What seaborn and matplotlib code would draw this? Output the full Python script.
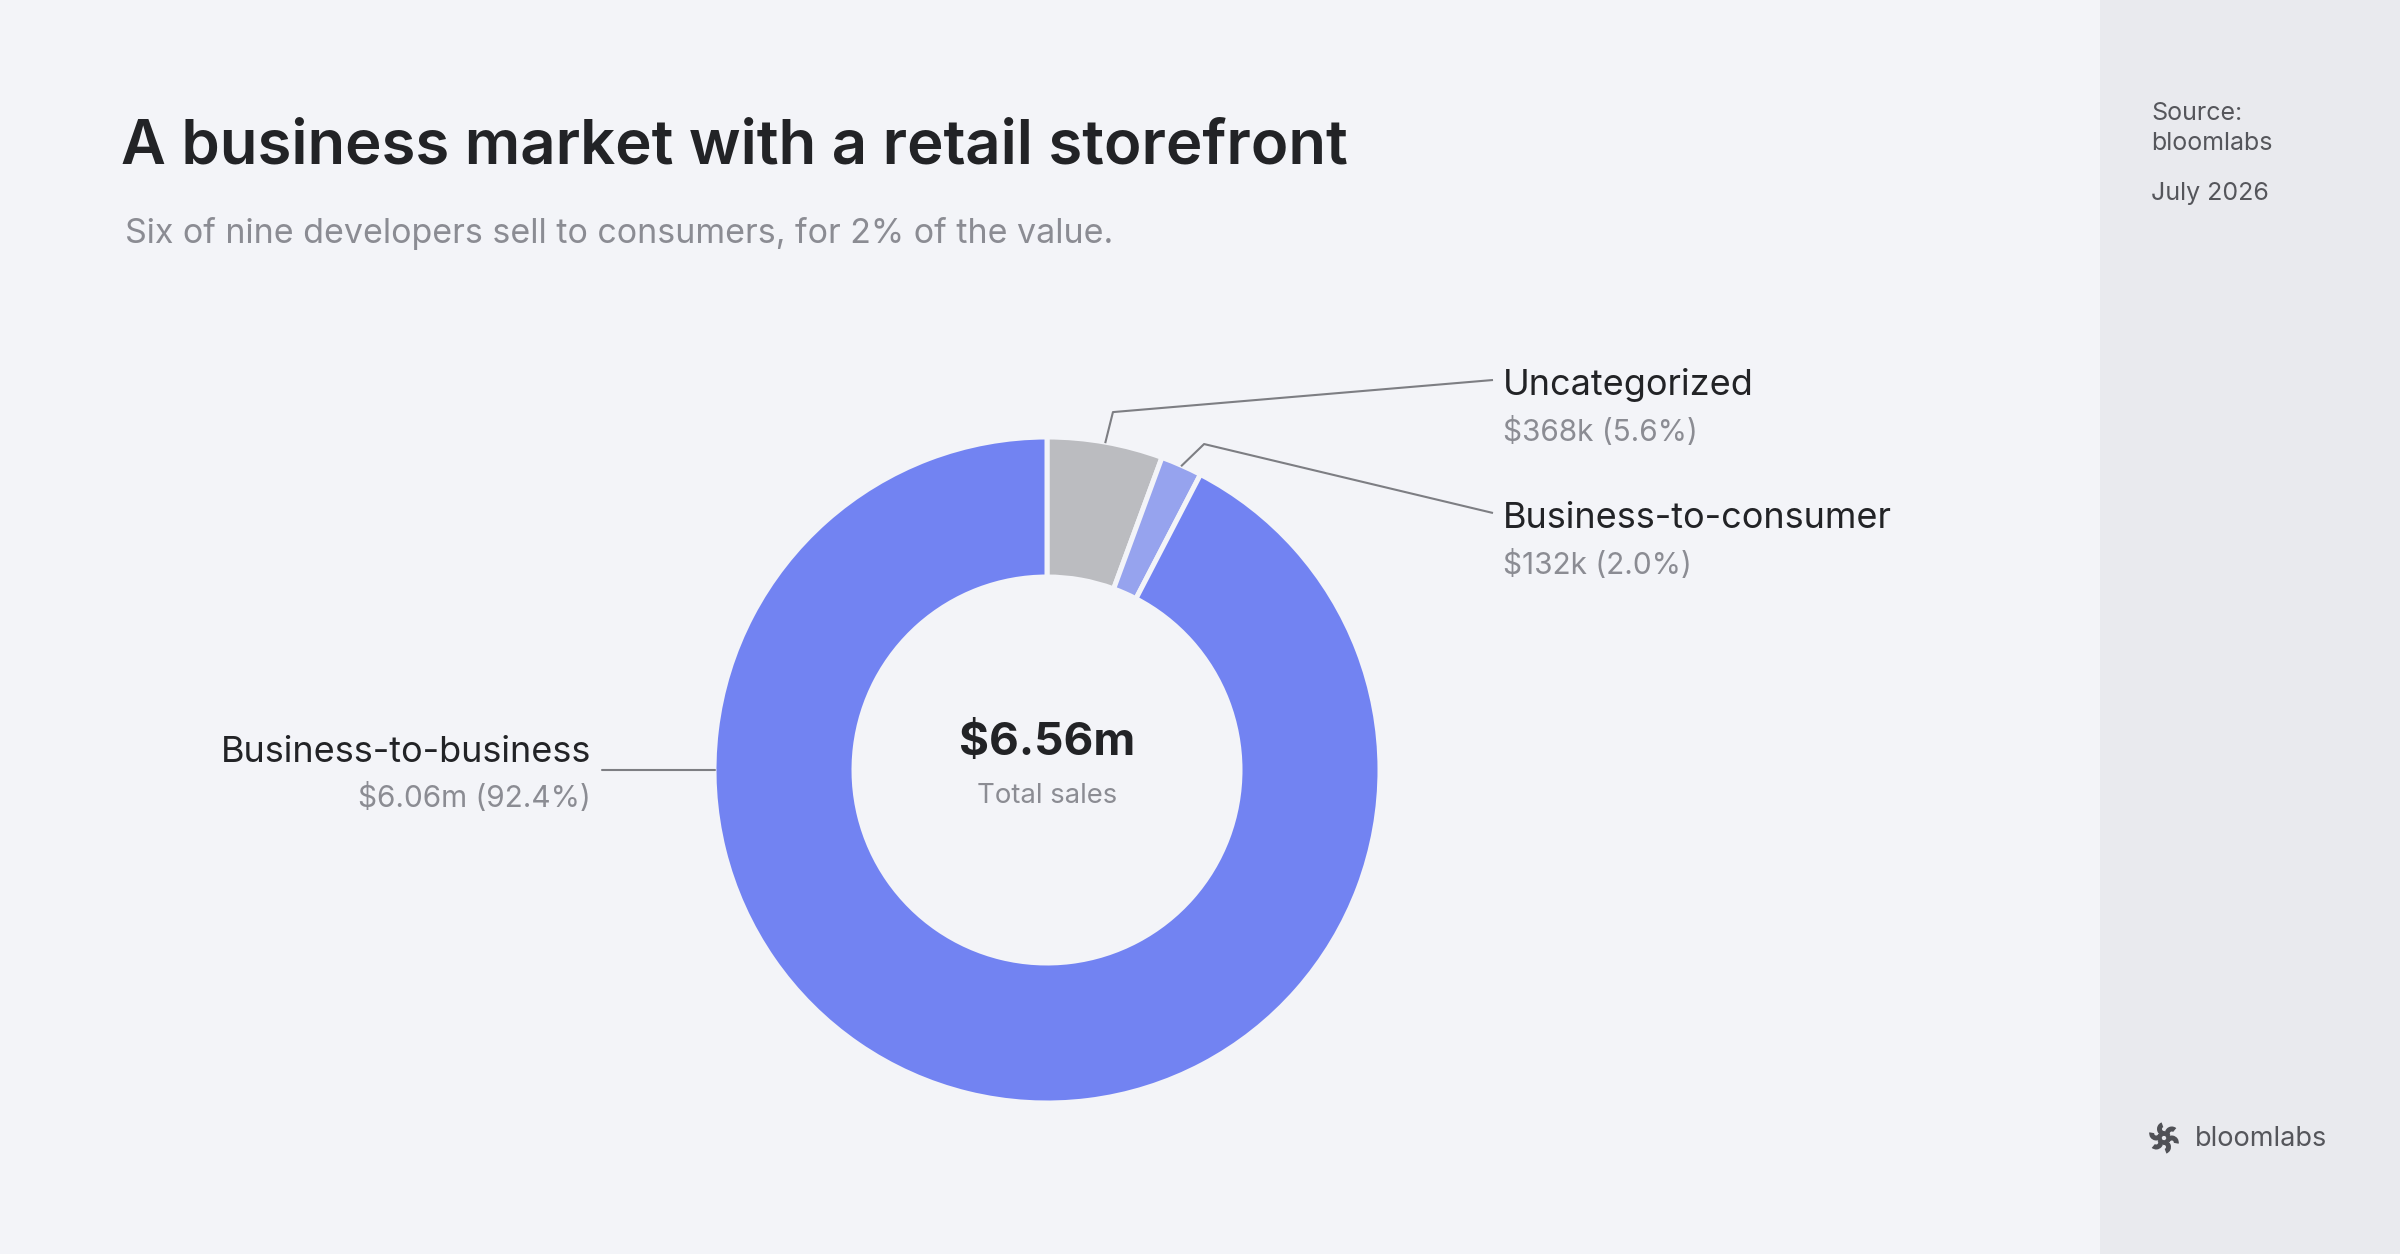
import numpy as np
import matplotlib
matplotlib.use("Agg")
import matplotlib.pyplot as plt
from matplotlib.patches import Rectangle, Wedge
import seaborn as sns

# ---------------- data ----------------
categories = ["Uncategorized", "Business-to-consumer", "Business-to-business"]
sales_k = [368, 132, 6060]
value_labels = ["$368k (5.6%)", "$132k (2.0%)", "$6.06m (92.4%)"]
total_label = "$6.56m"
total_caption = "Total sales"
title = "A business market with a retail storefront"
subtitle = "Six of nine developers sell to consumers, for 2% of the value."
source_lines = ["Source:", "bloomlabs"]
date_label = "July 2026"
brand = "bloomlabs"

# ---------------- style ----------------
BG = "#f3f4f8"
PANEL = "#e9eaee"
DARK = "#222326"
GREY = "#8b8c93"
SIDE = "#55565b"
LINE = "#7d7e83"
slice_colors = sns.color_palette(["#bbbcc0", "#96a3ee", "#7283f2"])

sns.set_theme(style="white")
plt.rcParams["font.family"] = ["Inter", "DejaVu Sans"]

W, H = 2400, 1254
fig = plt.figure(figsize=(16, 8.36), dpi=150, facecolor=BG)
ax = fig.add_axes([0, 0, 1, 1])
ax.set_facecolor(BG)


def Y(py):
    return H - py


# right side panel
ax.add_patch(Rectangle((2100, 0), 300, H, facecolor=PANEL, edgecolor="none", zorder=0))

# donut
cx, cy, R = 1047, 770, 333
wedges, _ = ax.pie(
    sales_k,
    colors=slice_colors,
    startangle=90,
    counterclock=False,
    radius=R,
    center=(cx, Y(cy)),
    wedgeprops=dict(width=140, edgecolor=BG, linewidth=2.4),
)
ax.set_xlim(0, W)
ax.set_ylim(0, H)
ax.set_aspect("equal")
ax.axis("off")

# centre text
ax.text(cx, Y(755), total_label, ha="center", va="baseline", fontsize=22,
        fontweight="bold", color=DARK)
ax.text(cx, Y(803), total_caption, ha="center", va="baseline", fontsize=13.2,
        color=GREY)

NAME_FS = 17.3
VAL_FS = 14.3

# leader lines + labels for the small slices (right side)
label_x = 1503
name_base = [395, 528]
line_end_y = [380, 513]
elbow_dir = [76, 44]   # direction of the first leader segment (degrees)
elbow_len = 32
for i in range(2):
    w = wedges[i]
    mid = np.deg2rad((w.theta1 + w.theta2) / 2)
    x0, y0 = cx + (R - 1) * np.cos(mid), Y(cy) + (R - 1) * np.sin(mid)
    d = np.deg2rad(elbow_dir[i])
    x1, y1 = x0 + elbow_len * np.cos(d), y0 + elbow_len * np.sin(d)
    ax.plot([x0, x1, label_x - 10], [y0, y1, Y(line_end_y[i])], color=LINE,
            lw=1.0, solid_capstyle="butt", zorder=3)
    ax.text(label_x, Y(name_base[i]), categories[i], ha="left", va="baseline",
            fontsize=NAME_FS, color=DARK)
    ax.text(label_x, Y(name_base[i] + 46), value_labels[i], ha="left",
            va="baseline", fontsize=VAL_FS, color=GREY)

# big slice label (left side)
ax.plot([602, cx - R + 1], [Y(cy), Y(cy)], color=LINE, lw=1.0, zorder=3)
ax.text(591, Y(762), categories[2], ha="right", va="baseline", fontsize=NAME_FS,
        color=DARK)
ax.text(591, Y(807), value_labels[2], ha="right", va="baseline", fontsize=VAL_FS,
        color=GREY)

# title + subtitle
ax.text(121, Y(163), title, ha="left", va="baseline", fontsize=29.6,
        fontweight="semibold", color=DARK)
ax.text(125, Y(243), subtitle, ha="left", va="baseline", fontsize=16.3,
        color=GREY)

# side panel text
ax.text(2151, Y(120), source_lines[0], ha="left", va="baseline", fontsize=12,
        color=SIDE)
ax.text(2151, Y(150), source_lines[1], ha="left", va="baseline", fontsize=12,
        color=SIDE)
ax.text(2151, Y(200), date_label, ha="left", va="baseline", fontsize=12,
        color=SIDE)

# brand mark
lx, ly = 2164, Y(1138)
for k in range(6):
    a = np.deg2rad(90 + k * 60)
    px, py = lx + 9.0 * np.cos(a), ly + 9.0 * np.sin(a)
    th = np.rad2deg(a)
    ax.add_patch(Wedge((px, py), 7.0, th + 20, th + 200, width=5.0,
                       facecolor="#505156", edgecolor="none", zorder=4))
ax.text(2195, Y(1146), brand, ha="left", va="baseline", fontsize=13,
        color=SIDE)

fig.savefig("out.png", dpi=150, facecolor=BG)
